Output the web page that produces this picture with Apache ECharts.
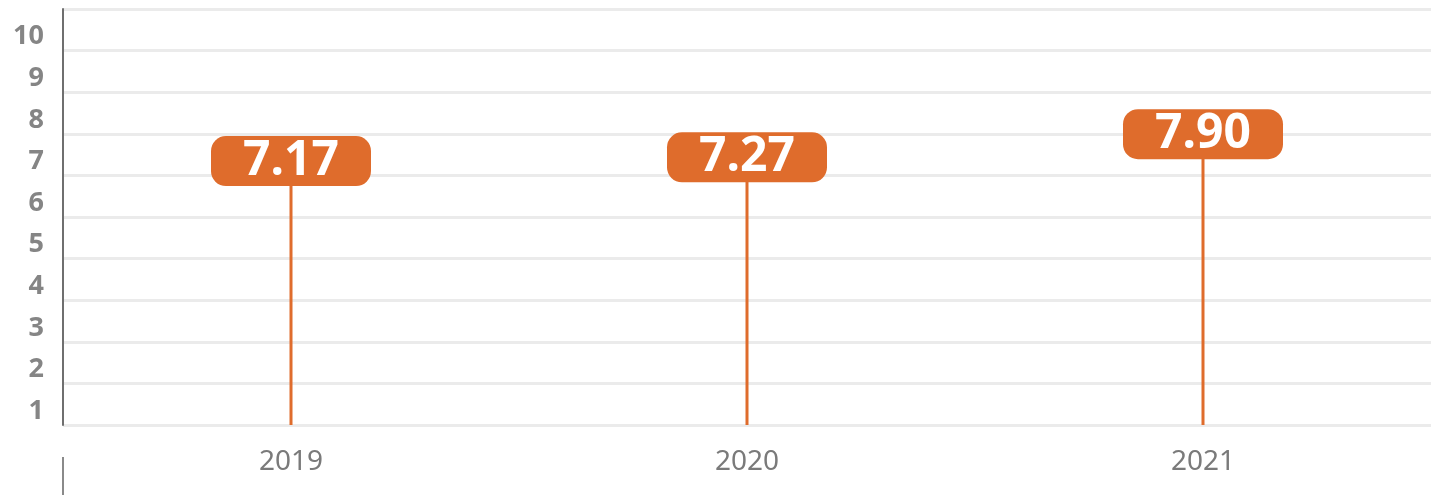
<!DOCTYPE html>
<html>
<head>
<meta charset="utf-8">
<script src="https://cdn.jsdelivr.net/npm/echarts@6/dist/echarts.min.js"></script>
<style>
  html, body { margin: 0; padding: 0; background: #fff; }
  #main { width: 1431px; height: 495px; }
</style>
</head>
<body>
<div id="main"></div>
<script>
// data
var years = ['2019', '2020', '2021'];
var scores = [7.17, 7.27, 7.90];
var yTicks = ['1', '2', '3', '4', '5', '6', '7', '8', '9', '10'];

var orange = '#df6c2c';
var chart = echarts.init(document.getElementById('main'));

var option = {
    animation: false,
    grid: { left: 63, right: 0, top: 9, bottom: 70, outerBoundsMode: 'none' },
    xAxis: {
        type: 'category',
        data: years,
        axisLine: { show: false },
        axisTick: { show: false },
        axisLabel: {
            margin: 23,
            fontFamily: 'Noto Sans',
            fontSize: 28,
            lineHeight: 28,
            color: '#7a7a7a'
        }
    },
    yAxis: [
        {
            // tick labels sit between the grid lines, a little low
            type: 'category',
            data: yTicks,
            boundaryGap: true,
            axisLine: { show: true, lineStyle: { color: '#6f6f6f', width: 2 } },
            axisTick: { show: false },
            axisLabel: {
                margin: 19,
                verticalAlign: 'top',
                lineHeight: 14,
                fontFamily: 'Noto Sans',
                fontWeight: 'bold',
                fontSize: 27,
                color: '#858585'
            },
            splitLine: { show: true, lineStyle: { color: '#ebebeb', width: 3 } }
        },
        {
            type: 'value',
            show: false,
            min: 0,
            max: 11.3,
            splitLine: { show: false }
        }
    ],
    series: [
        {
            // stems
            type: 'bar',
            yAxisIndex: 1,
            data: scores,
            barWidth: 3,
            itemStyle: { color: orange }
        },
        {
            // value badges
            type: 'scatter',
            yAxisIndex: 1,
            data: scores,
            symbolSize: 1,
            z: 5,
            itemStyle: { color: orange, opacity: 1 },
            label: {
                show: true,
                position: 'inside',
                formatter: function (p) { return p.value.toFixed(2); },
                backgroundColor: orange,
                borderRadius: 15,
                width: 160,
                height: 50,
                lineHeight: 50,
                align: 'center',
                verticalAlign: 'middle',
                fontFamily: 'Noto Sans',
                fontWeight: 'bold',
                fontSize: 48,
                color: '#fff',
                opacity: 1
            }
        }
    ],
    graphic: [
        {
            type: 'line',
            shape: { x1: 63, y1: 457, x2: 63, y2: 495 },
            style: { stroke: '#8a8a8a', lineWidth: 2 }
        }
    ]
};

chart.setOption(option);
</script>
</body>
</html>
